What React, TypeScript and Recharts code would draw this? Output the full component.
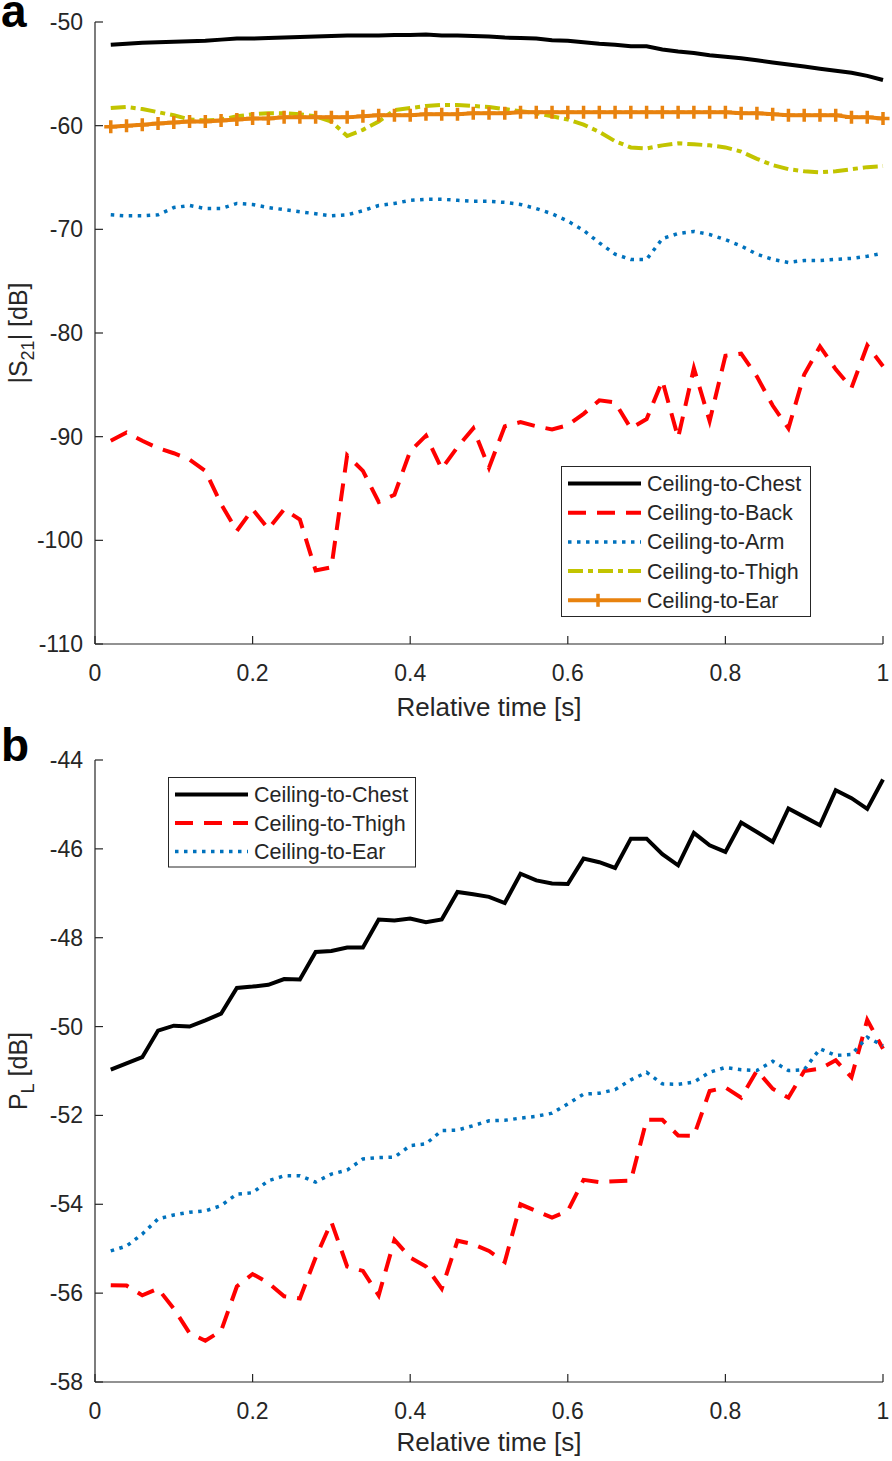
import React from "react";
import {
	LineChart,
	Line,
	XAxis,
	YAxis,
	Legend,
} from "recharts";

// relative time [s]
const TIME = [
	0.02, 0.04, 0.06, 0.08, 0.1, 0.12, 0.14, 0.16, 0.18, 0.2,
	0.22, 0.24, 0.26, 0.28, 0.3, 0.32, 0.34, 0.36, 0.38, 0.4,
	0.42, 0.44, 0.46, 0.48, 0.5, 0.52, 0.54, 0.56, 0.58, 0.6,
	0.62, 0.64, 0.66, 0.68, 0.7, 0.72, 0.74, 0.76, 0.78, 0.8,
	0.82, 0.84, 0.86, 0.88, 0.9, 0.92, 0.94, 0.96, 0.98, 1.0,
];
const X_TICKS = [0, 0.2, 0.4, 0.6, 0.8, 1];

// panel a: |S21| [dB]
const S21_TICKS = [-110, -100, -90, -80, -70, -60, -50];
const S21_CHEST = [
	-52.2, -52.1, -52.0, -51.95, -51.9, -51.85, -51.8, -51.7, -51.6, -51.6,
	-51.55, -51.5, -51.45, -51.4, -51.35, -51.3, -51.3, -51.3, -51.25, -51.25,
	-51.2, -51.3, -51.3, -51.35, -51.4, -51.5, -51.55, -51.6, -51.75, -51.8,
	-51.95, -52.1, -52.2, -52.35, -52.35, -52.65, -52.85, -53.0, -53.2, -53.35,
	-53.5, -53.7, -53.9, -54.1, -54.3, -54.5, -54.7, -54.9, -55.2, -55.6,
];
const S21_BACK = [
	-90.4, -89.6, -90.4, -91.1, -91.6, -92.2, -93.3, -96.5, -99.1, -97.0,
	-98.9, -97.0, -98.0, -102.9, -102.6, -91.8, -93.3, -96.3, -95.6, -91.4,
	-89.9, -93.1, -91.0, -89.2, -93.0, -89.0, -88.6, -89.0, -89.3, -88.9,
	-87.8, -86.5, -86.7, -89.2, -88.3, -84.6, -90.1, -83.4, -88.5, -82.2,
	-82.0, -84.2, -87.0, -89.2, -84.0, -81.3, -83.5, -85.3, -81.2, -83.2,
];
const S21_ARM = [
	-68.6, -68.7, -68.7, -68.6, -67.9, -67.7, -68.0, -68.0, -67.5, -67.6,
	-67.9, -68.1, -68.3, -68.5, -68.7, -68.6, -68.2, -67.7, -67.5, -67.2,
	-67.1, -67.1, -67.2, -67.3, -67.3, -67.4, -67.6, -68.0, -68.5, -69.2,
	-70.1, -71.3, -72.4, -72.9, -72.9, -70.9, -70.4, -70.2, -70.5, -71.0,
	-71.6, -72.4, -72.9, -73.2, -73.0, -73.0, -72.9, -72.8, -72.6, -72.3,
];
const S21_THIGH = [
	-58.3, -58.2, -58.4, -58.7, -59.0, -59.4, -59.5, -59.4, -59.1, -58.9,
	-58.8, -58.8, -58.9, -59.1, -59.6, -61.0, -60.4, -59.6, -58.5, -58.3,
	-58.1, -58.0, -58.0, -58.1, -58.2, -58.4, -58.6, -58.8, -59.1, -59.4,
	-59.9, -60.6, -61.5, -62.1, -62.2, -61.9, -61.7, -61.8, -61.9, -62.1,
	-62.5, -63.2, -63.8, -64.2, -64.4, -64.5, -64.4, -64.2, -64.0, -63.9,
];
const S21_EAR = [
	-60.1, -60.0, -59.9, -59.8, -59.7, -59.6, -59.6, -59.5, -59.4, -59.3,
	-59.3, -59.2, -59.2, -59.2, -59.2, -59.2, -59.1, -59.0, -59.0, -59.0,
	-58.9, -58.9, -58.9, -58.8, -58.8, -58.8, -58.7, -58.7, -58.7, -58.7,
	-58.7, -58.7, -58.7, -58.7, -58.7, -58.7, -58.7, -58.7, -58.7, -58.7,
	-58.8, -58.8, -58.9, -59.0, -59.0, -59.0, -59.0, -59.2, -59.2, -59.3,
];

// panel b: PL [dB]
const PL_TICKS = [-58, -56, -54, -52, -50, -48, -46, -44];
const PL_CHEST = [
	-50.97, -50.83, -50.69, -50.09, -49.98, -50.0, -49.86, -49.71, -49.13, -49.1,
	-49.06, -48.93, -48.94, -48.32, -48.3, -48.22, -48.22, -47.59, -47.61, -47.57,
	-47.65, -47.59, -46.97, -47.02, -47.08, -47.22, -46.56, -46.71, -46.78, -46.79,
	-46.22, -46.3, -46.43, -45.77, -45.77, -46.12, -46.37, -45.64, -45.92, -46.07,
	-45.41, -45.62, -45.84, -45.09, -45.28, -45.47, -44.68, -44.86, -45.1, -44.44,
];
const PL_THIGH = [
	-55.82, -55.83, -56.05, -55.9, -56.35, -56.9, -57.07, -56.85, -55.85, -55.57,
	-55.77, -56.07, -56.12, -55.2, -54.4, -55.4, -55.5, -56.05, -54.8, -55.2,
	-55.4, -55.9, -54.82, -54.9, -55.05, -55.3, -54.0, -54.15, -54.3, -54.15,
	-53.45, -53.5, -53.48, -53.47, -52.1, -52.1, -52.45, -52.46, -51.45, -51.37,
	-51.6, -50.99, -51.4, -51.6, -51.0, -50.95, -50.76, -51.14, -49.85, -50.5,
];
const PL_EAR = [
	-55.05, -54.94, -54.67, -54.33, -54.24, -54.18, -54.15, -54.03, -53.77, -53.74,
	-53.47, -53.36, -53.36, -53.5, -53.32, -53.23, -52.98, -52.95, -52.94, -52.68,
	-52.64, -52.34, -52.33, -52.23, -52.12, -52.11, -52.06, -52.02, -51.95, -51.74,
	-51.52, -51.5, -51.42, -51.2, -51.03, -51.29, -51.3, -51.25, -51.03, -50.92,
	-50.97, -50.99, -50.78, -50.99, -50.97, -50.5, -50.65, -50.63, -50.24, -50.43,
];

const FONT = "'Liberation Sans', Arial, sans-serif";
const AXIS = "#262626";
const BLACK = "#000000";
const RED = "#ff0000";
const BLUE = "#0072bd";
const OLIVE = "#c2c400";
const ORANGE = "#e8820e";
const LW = 4;

const dataA = TIME.map((t, i) => ({
	t,
	chest: S21_CHEST[i],
	back: S21_BACK[i],
	arm: S21_ARM[i],
	thigh: S21_THIGH[i],
	ear: S21_EAR[i],
}));

const dataB = TIME.map((t, i) => ({
	t,
	chest: PL_CHEST[i],
	thigh: PL_THIGH[i],
	ear: PL_EAR[i],
}));

type Style = { name: string; color: string; dash?: string; width?: number; plus?: boolean };

const SERIES_A: (Style & { key: string })[] = [
	{ key: "chest", name: "Ceiling-to-Chest", color: BLACK },
	{ key: "back", name: "Ceiling-to-Back", color: RED, dash: "18 11" },
	{ key: "arm", name: "Ceiling-to-Arm", color: BLUE, dash: "3.5 5.5", width: 3.5 },
	{ key: "thigh", name: "Ceiling-to-Thigh", color: OLIVE, dash: "15 5 5 5" },
	{ key: "ear", name: "Ceiling-to-Ear", color: ORANGE, plus: true },
];

const SERIES_B: (Style & { key: string })[] = [
	{ key: "chest", name: "Ceiling-to-Chest", color: BLACK },
	{ key: "thigh", name: "Ceiling-to-Thigh", color: RED, dash: "18 11" },
	{ key: "ear", name: "Ceiling-to-Ear", color: BLUE, dash: "3.5 5.5", width: 3.5 },
];

const fmtX = (v: number) => (v === 0 || v === 1 ? String(v) : v.toFixed(1));

const PlusDot = (props: any) => {
	const { cx, cy, index } = props;
	if (cx == null || cy == null) return <g key={index} />;
	return (
		<path
			key={index}
			d={`M${cx - 6.5},${cy}H${cx + 6.5}M${cx},${cy - 6.5}V${cy + 6.5}`}
			stroke={ORANGE}
			strokeWidth={3.5}
			fill="none"
		/>
	);
};

// MATLAB-style inward ticks, drawn by custom tick renderers
const BottomTick = ({ x, y, payload }: any) => (
	<g>
		<line x1={x} x2={x} y1={y} y2={y - 8} stroke={AXIS} strokeWidth={1.2} />
		<text
			x={x}
			y={y + 37}
			textAnchor="middle"
			fontFamily={FONT}
			fontSize={23}
			fill={AXIS}
		>
			{fmtX(payload.value)}
		</text>
	</g>
);
const TopTick = ({ x, y }: any) => (
	<line x1={x} x2={x} y1={y} y2={y + 8} stroke={AXIS} strokeWidth={1.2} />
);
const LeftTick = ({ x, y, payload }: any) => (
	<g>
		<line x1={x} x2={x + 8} y1={y} y2={y} stroke={AXIS} strokeWidth={1.2} />
		<text
			x={x - 12}
			y={y + 8}
			textAnchor="end"
			fontFamily={FONT}
			fontSize={23}
			fill={AXIS}
		>
			{payload.value}
		</text>
	</g>
);
const RightTick = ({ x, y }: any) => (
	<line x1={x} x2={x - 8} y1={y} y2={y} stroke={AXIS} strokeWidth={1.2} />
);

const makeLegend = (series: Style[], width: number, rowGap: number) => () => (
	<svg width={width} height={series.length * rowGap + 5} style={{ display: "block" }}>
		<rect
			x={0.5}
			y={0.5}
			width={width - 1}
			height={series.length * rowGap + 4}
			fill="#fff"
			stroke={AXIS}
			strokeWidth={1}
		/>
		{series.map((s, i) => {
			const y = 17.5 + i * rowGap;
			return (
				<g key={s.name}>
					<line
						x1={7}
						x2={80}
						y1={y}
						y2={y}
						stroke={s.color}
						strokeWidth={s.width ?? LW}
						strokeDasharray={s.dash}
					/>
					{s.plus && (
						<path
							d={`M37,${y - 6.5}V${y + 6.5}`}
							stroke={s.color}
							strokeWidth={3.5}
						/>
					)}
					<text
						x={86}
						y={y + 7.5}
						fontFamily={FONT}
						fontSize={21.5}
						fill={AXIS}
					>
						{s.name}
					</text>
				</g>
			);
		})}
	</svg>
);

const Panel = ({
	data,
	series,
	domain,
	yTicks,
	height,
	top,
	letter,
	letterY,
	xLabelY,
	yLabel,
	legendBox,
}: {
	data: any[];
	series: (Style & { key: string })[];
	domain: [number, number];
	yTicks: number[];
	height: number;
	top: number;
	letter: string;
	letterY: number;
	xLabelY: number;
	yLabel: React.ReactNode;
	legendBox: { left: number; top: number; width: number; rowGap: number };
}) => {
	const xAxisH = height - top - 622;
	return (
		<div style={{ position: "relative", width: 892, height }}>
			<LineChart
				width={892}
				height={height}
				data={data}
				margin={{ top, right: 9, left: 0, bottom: 0 }}
			>
				<XAxis
					xAxisId="b"
					dataKey="t"
					type="number"
					domain={[0, 1]}
					ticks={X_TICKS}
					height={xAxisH}
					tickSize={0}
					tickMargin={0}
					tickLine={false}
					stroke={AXIS}
					strokeWidth={1.2}
					tick={BottomTick}
					label={{
						content: () => (
							<text
								x={489}
								y={xLabelY}
								textAnchor="middle"
								fontFamily={FONT}
								fontSize={26}
								fill={AXIS}
							>
								Relative time [s]
							</text>
						),
					}}
				/>
				<XAxis
					xAxisId="t"
					orientation="top"
					dataKey="t"
					type="number"
					domain={[0, 1]}
					ticks={X_TICKS}
					height={0}
					tickSize={0}
					tickMargin={0}
					tickLine={false}
					tick={TopTick}
					stroke={AXIS}
					strokeWidth={1.2}
				/>
				<YAxis
					yAxisId="l"
					type="number"
					domain={domain}
					ticks={yTicks}
					width={95}
					tickSize={0}
					tickMargin={0}
					tickLine={false}
					stroke={AXIS}
					strokeWidth={1.2}
					tick={LeftTick}
					label={{ content: () => yLabel }}
				/>
				<YAxis
					yAxisId="r"
					orientation="right"
					type="number"
					domain={domain}
					ticks={yTicks}
					width={0}
					tickSize={0}
					tickMargin={0}
					tickLine={false}
					tick={RightTick}
					stroke={AXIS}
					strokeWidth={1.2}
				/>
				{series.map((s) => (
					<Line
						key={s.key}
						xAxisId="b"
						yAxisId="l"
						type="linear"
						dataKey={s.key}
						name={s.name}
						stroke={s.color}
						strokeWidth={s.width ?? LW}
						strokeDasharray={s.dash}
						dot={s.plus ? PlusDot : false}
						activeDot={false}
						isAnimationActive={false}
					/>
				))}
				<Legend
					layout="horizontal"
					verticalAlign="middle"
					align="center"
					content={makeLegend(series, legendBox.width, legendBox.rowGap)}
					wrapperStyle={{
						left: legendBox.left,
						top: legendBox.top,
						width: legendBox.width,
						height: "auto",
					}}
				/>
			</LineChart>
			<svg
				width={60}
				height={60}
				style={{ position: "absolute", left: 0, top: -12 }}
			>
				<text
					x={1}
					y={letterY + 12}
					fontFamily={FONT}
					fontWeight="bold"
					fontSize={46}
					fill="#000"
				>
					{letter}
				</text>
			</svg>
		</div>
	);
};

const labelA = (
	<text
		transform="translate(27,333) rotate(-90)"
		textAnchor="middle"
		fontFamily={FONT}
		fontSize={25}
		fill={AXIS}
	>
		|S<tspan fontSize={18} dy={7}>21</tspan>
		<tspan dy={-7}>| [dB]</tspan>
	</text>
);

const labelB = (
	<text
		transform="translate(27,341) rotate(-90)"
		textAnchor="middle"
		fontFamily={FONT}
		fontSize={25}
		fill={AXIS}
	>
		P<tspan fontSize={18} dy={7}>L</tspan>
		<tspan dy={-7}> [dB]</tspan>
	</text>
);

export default function App() {
	return (
		<div
			style={{
				position: "absolute",
				left: 0,
				top: 0,
				width: 892,
				height: 1461,
				background: "#fff",
			}}
		>
			<Panel
				data={dataA}
				series={SERIES_A}
				domain={[-110, -50]}
				yTicks={S21_TICKS}
				height={730}
				top={22}
				letter="a"
				letterY={27}
				xLabelY={716}
				yLabel={labelA}
				legendBox={{ left: 561, top: 466, width: 250, rowGap: 29.2 }}
			/>
			<Panel
				data={dataB}
				series={SERIES_B}
				domain={[-58, -44]}
				yTicks={PL_TICKS}
				height={731}
				top={30}
				letter="b"
				letterY={31}
				xLabelY={721}
				yLabel={labelB}
				legendBox={{ left: 168, top: 47, width: 248, rowGap: 28.5 }}
			/>
		</div>
	);
}
